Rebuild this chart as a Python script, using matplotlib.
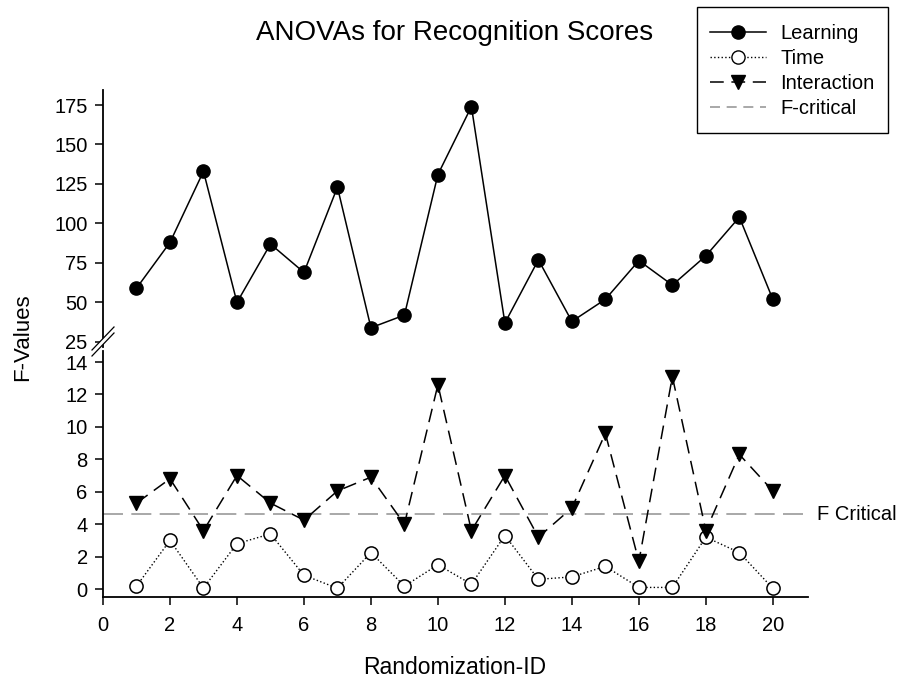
import matplotlib
matplotlib.use("Agg")
import matplotlib.pyplot as plt
from matplotlib.lines import Line2D
from matplotlib.patches import Polygon, Rectangle

plt.rcParams['font.family'] = ['Liberation Sans', 'DejaVu Sans']

# -----------------------------
# DATA
# -----------------------------
rand_id = list(range(1, 21))
learning = [59, 88, 133, 50, 87, 69, 123, 34, 42, 131,
            174, 37, 77, 38, 52, 76.5, 61, 79.5, 104, 52]
time_f = [0.18, 3.0, 0.06, 2.8, 3.4, 0.85, 0.05, 2.25, 0.18, 1.5,
          0.3, 3.3, 0.6, 0.75, 1.4, 0.1, 0.1, 3.2, 2.25, 0.04]
interaction = [5.3, 6.8, 3.6, 7.0, 5.3, 4.25, 6.05, 6.9, 4.0, 12.6,
               3.6, 7.0, 3.2, 5.0, 9.6, 1.7, 13.1, 3.6, 8.3, 6.05]
f_critical = 4.6

W, H = 899, 684
fig = plt.figure(figsize=(W / 100, H / 100), dpi=100)

def fx(px):
    return px / W

def fy(py):
    return 1 - py / H

left, right = fx(103), fx(808)
ax_top = fig.add_axes([left, fy(347), right - left, fy(90) - fy(347)])
ax_bot = fig.add_axes([left, fy(597), right - left, fy(351) - fy(597)])

# -----------------------------
# upper panel: Learning
# -----------------------------
ax_top.plot(rand_id, learning, color='black', lw=1.1, marker='o',
            markersize=9.5, markerfacecolor='black', markeredgecolor='black')
ax_top.set_xlim(0, 21.05)
ax_top.set_ylim(21.8, 184.5)
ax_top.set_yticks([25, 50, 75, 100, 125, 150, 175])
ax_top.set_xticks([])
for s in ['top', 'right', 'bottom']:
    ax_top.spines[s].set_visible(False)
ax_top.spines['left'].set_linewidth(1.3)

# -----------------------------
# lower panel: Time, Interaction, F-critical
# -----------------------------
ax_bot.axhline(f_critical, color='#999999', lw=1.2, dashes=(12, 5))
ax_bot.plot(rand_id, time_f, color='black', lw=1.0, ls=':', marker='o',
            markersize=9.5, markerfacecolor='white', markeredgecolor='black',
            markeredgewidth=1.1)
ax_bot.plot(rand_id, interaction, color='black', lw=1.1, dashes=(9, 5),
            marker='v', markersize=10, markerfacecolor='black',
            markeredgecolor='black')
ax_bot.set_xlim(0, 21.05)
ax_bot.set_ylim(-0.49, 14.68)
ax_bot.set_yticks(range(0, 15, 2))
ax_bot.set_xticks(range(0, 21, 2))
for s in ['top', 'right']:
    ax_bot.spines[s].set_visible(False)
ax_bot.spines['left'].set_linewidth(1.3)
ax_bot.spines['bottom'].set_linewidth(1.3)

for ax in (ax_top, ax_bot):
    ax.tick_params(direction='out', length=6, width=1.1, labelsize=14.5,
                   pad=5, colors='black')
ax_bot.tick_params(axis='x', pad=8)

ax_bot.text(1.013, f_critical, 'F Critical', transform=ax_bot.get_yaxis_transform(),
            va='center', ha='left', fontsize=14.5)

# break marks on y axis
fig.patches.append(Polygon([(fx(92), fy(350)), (fx(114), fy(327)),
                            (fx(114), fy(333)), (fx(92), fy(356))],
                           closed=True, transform=fig.transFigure,
                           facecolor='white', edgecolor='none', zorder=5))
for dy in (350, 356):
    fig.add_artist(Line2D([fx(92), fx(114)], [fy(dy), fy(dy - 23)],
                          color='black', lw=0.9, zorder=6))

# texts
fig.text(fx(455), fy(33), 'ANOVAs for Recognition Scores', ha='center',
         va='center', fontsize=20)
fig.text(fx(23), fy(337), 'F-Values', rotation=90, ha='center',
         va='center', fontsize=16)
fig.text(fx(455), fy(667), 'Randomization-ID', ha='center', va='center',
         fontsize=16.5)

# legend (frame drawn separately)
fig.patches.append(Rectangle((fx(697), fy(133)), fx(888) - fx(697),
                             fy(7) - fy(133), transform=fig.transFigure,
                             facecolor='white', edgecolor='black', lw=1.0))
handles = [
    Line2D([], [], color='black', lw=1.1, marker='o', markersize=9.5,
           markerfacecolor='black'),
    Line2D([], [], color='black', lw=1.0, ls=':', marker='o', markersize=9.5,
           markerfacecolor='white', markeredgecolor='black'),
    Line2D([], [], color='black', lw=1.1, dashes=(9, 5), marker='v',
           markersize=10, markerfacecolor='black'),
    Line2D([], [], color='#999999', lw=1.2, dashes=(6, 4)),
]
labels = ['Learning', 'Time', 'Interaction', 'F-critical']
leg = fig.legend(handles, labels, loc='upper left',
                 bbox_to_anchor=(fx(710), fy(24)), fontsize=14.5,
                 frameon=False, handlelength=2.8, labelspacing=0.3,
                 borderpad=0, handletextpad=0.7, borderaxespad=0)

fig.savefig('out.png', dpi=100)
